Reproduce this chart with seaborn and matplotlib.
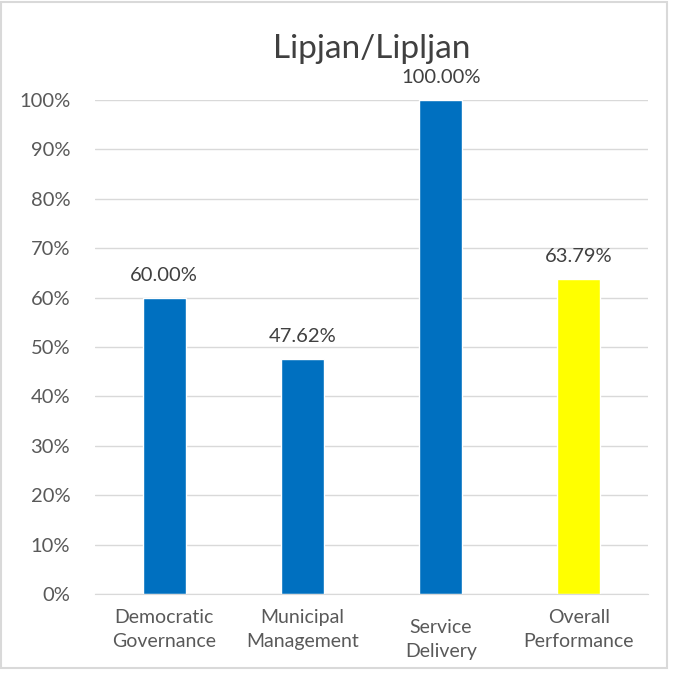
import matplotlib
matplotlib.use('Agg')
import matplotlib.pyplot as plt
import matplotlib.transforms as mtransforms
import pandas as pd
import seaborn as sns
from matplotlib.ticker import PercentFormatter
from matplotlib.patches import Rectangle

categories = ['Democratic\nGovernance', 'Municipal\nManagement', 'Service\nDelivery', 'Overall\nPerformance']
scores = [0.60, 0.4762, 1.00, 0.6379]
bar_colors = ['#0070C0', '#0070C0', '#0070C0', '#FFFF00']
title = 'Lipjan/Lipljan'

sns.set_style('white')
plt.rcParams['font.family'] = ['Lato', 'DejaVu Sans']

df = pd.DataFrame({'Category': categories, 'Score': scores})

fig = plt.figure(figsize=(6.75, 6.75), dpi=100)
ax = fig.add_axes([0.141, 0.12, 0.819, 0.732])

sns.barplot(data=df, x='Category', y='Score', hue='Category', palette=bar_colors,
            width=0.31, legend=False, ax=ax, saturation=1)

# value labels above bars
for i, v in enumerate(scores):
    ax.annotate(f'{v * 100:.2f}%', xy=(i, v), xytext=(0, 10), textcoords='offset points',
                ha='center', va='bottom', fontsize=14.5, color='#404040')

ax.set_ylim(0, 1.0)
ax.set_yticks([i / 10 for i in range(11)])
ax.yaxis.set_major_formatter(PercentFormatter(1.0, decimals=0))
ax.yaxis.grid(True, color='#D9D9D9', linewidth=1)
ax.set_axisbelow(True)
for s in ['top', 'right', 'left']:
    ax.spines[s].set_visible(False)
ax.spines['bottom'].set_color('#D9D9D9')
ax.tick_params(axis='y', length=0, labelsize=14.5, labelcolor='#595959', pad=18)
ax.tick_params(axis='x', length=0, labelsize=14, labelcolor='#595959', pad=11)
for lbl in ax.get_xticklabels():
    lbl.set_linespacing(1.5)
# the Service Delivery label sits a little lower in the reference
svc = ax.get_xticklabels()[2]
svc.set_transform(svc.get_transform() + mtransforms.ScaledTranslation(0, -10 / 100, fig.dpi_scale_trans))
ax.set_xlabel('')
ax.set_ylabel('')
ax.set_title(title, fontsize=24, color='#404040', pad=30)

fig.patches.append(Rectangle((0.002, 0.01), 0.986, 0.987, transform=fig.transFigure,
                             fill=False, edgecolor='#D9D9D9', linewidth=1.5))

fig.savefig('out.png', dpi=100)
